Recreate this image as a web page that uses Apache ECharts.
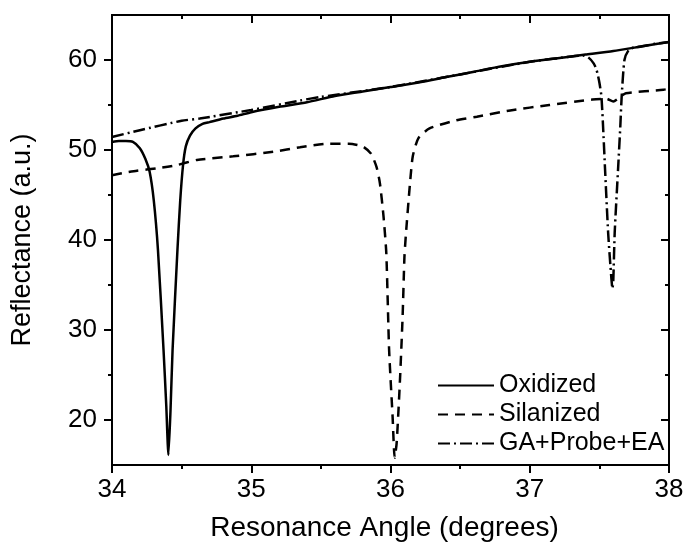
<!DOCTYPE html>
<html>
<head>
<meta charset="utf-8">
<script src="https://cdn.jsdelivr.net/npm/echarts@6/dist/echarts.min.js"></script>
<style>
html,body{margin:0;padding:0;background:#fff;}
#chart{width:688px;height:552px;}
</style>
</head>
<body>
<div id="chart"></div>
<script>
// ---- data (angle in degrees, reflectance in a.u.) ----
var seriesNames = ['Oxidized', 'Silanized', 'GA+Probe+EA'];

var oxidized = [
  [34.00, 50.9], [34.05, 51.0], [34.10, 51.0], [34.15, 50.9], [34.20, 50.2],
  [34.24, 49.0], [34.27, 47.6], [34.30, 44.4], [34.33, 38.9], [34.37, 27.8],
  [34.39, 21.5], [34.405, 16.1], [34.42, 21.0], [34.435, 27.8], [34.47, 38.9],
  [34.49, 44.4], [34.51, 48.3], [34.53, 50.4], [34.56, 51.6], [34.60, 52.4],
  [34.65, 52.9], [34.70, 53.1], [34.80, 53.5], [34.90, 53.8], [35.00, 54.2],
  [35.20, 54.8], [35.40, 55.3], [35.60, 56.0], [35.80, 56.5], [36.00, 57.0],
  [36.20, 57.5], [36.40, 58.1], [36.60, 58.7], [36.80, 59.3], [37.00, 59.8],
  [37.20, 60.2], [37.40, 60.6], [37.60, 61.0], [37.80, 61.5], [38.00, 62.0]
];

var silanized = [
  [34.00, 47.2], [34.10, 47.5], [34.18, 47.7], [34.34, 48.0], [34.46, 48.3],
  [34.61, 48.9], [34.87, 49.3], [35.16, 49.8], [35.35, 50.3], [35.56, 50.7],
  [35.70, 50.7], [35.80, 50.4], [35.86, 49.6], [35.90, 48.1], [35.924, 46.3],
  [35.95, 42.6], [35.97, 38.5], [35.99, 27.8], [36.015, 20.4], [36.03, 15.8],
  [36.044, 17.4], [36.067, 24.1], [36.087, 31.5], [36.10, 38.1], [36.11, 40.5],
  [36.14, 46.3], [36.16, 49.3], [36.20, 51.3], [36.28, 52.4], [36.47, 53.3],
  [36.62, 53.7], [36.86, 54.4], [37.14, 55.0], [37.45, 55.6], [37.55, 55.7],
  [37.60, 55.4], [37.65, 55.9], [37.69, 56.3], [37.96, 56.7], [38.00, 56.8]
];

var gaProbeEa = [
  [34.00, 51.45], [34.20, 52.2], [34.50, 53.25], [34.63, 53.5], [35.00, 54.45],
  [35.35, 55.5], [35.50, 55.9], [36.00, 57.0], [36.50, 58.4], [37.00, 59.8],
  [37.30, 60.4], [37.38, 60.5], [37.42, 60.3], [37.46, 59.6], [37.48, 58.9],
  [37.50, 57.5], [37.515, 55.9], [37.53, 51.5], [37.54, 48.1], [37.563, 40.8],
  [37.58, 37.0], [37.594, 34.6], [37.60, 35.5], [37.61, 40.8], [37.635, 48.1],
  [37.65, 52.5], [37.66, 55.9], [37.68, 60.0], [37.71, 61.1], [37.75, 61.4],
  [37.80, 61.5], [37.90, 61.8], [38.00, 62.0]
];

var xTicks = [34, 35, 36, 37, 38];
var yTicks = [20, 30, 40, 50, 60];
var yMinorTicks = [25, 35, 45, 55];
var yRange = [15, 65];

// ---- chart ----
var FONT = '"Liberation Sans", Arial, Helvetica, sans-serif';
var chart = echarts.init(document.getElementById('chart'), null, {renderer: 'canvas'});

function lineSt(w) { return {color: '#000', width: w}; }

var xBottom = {
  type: 'value', position: 'bottom', min: xTicks[0], max: xTicks[xTicks.length - 1], interval: 1,
  axisLine: {show: true, onZero: false, lineStyle: lineSt(2)},
  axisTick: {show: true, inside: false, length: 8, lineStyle: lineSt(2)},
  minorTick: {show: true, splitNumber: 2, length: 4, lineStyle: lineSt(2)},
  splitLine: {show: false},
  axisLabel: {color: '#000', fontFamily: FONT, fontSize: 26, margin: 12},
  name: 'Resonance Angle (degrees)', nameLocation: 'middle', nameGap: 49,
  nameTextStyle: {color: '#000', fontFamily: FONT, fontSize: 28, padding: [0, 12, 0, 0]}
};
var xTop = {
  type: 'value', position: 'top', min: xTicks[0], max: xTicks[xTicks.length - 1], interval: 1,
  axisLine: {show: true, onZero: false, lineStyle: lineSt(2)},
  axisTick: {show: true, inside: true, length: 8, lineStyle: lineSt(2)},
  minorTick: {show: true, splitNumber: 2, length: 4, lineStyle: lineSt(2)},
  splitLine: {show: false},
  axisLabel: {show: false}
};
function yAxisDef(pos, inside, tickVals, tickLen, withLabels) {
  var a = {
    type: 'value', position: pos, min: yRange[0], max: yRange[1], interval: 5,
    axisLine: {show: true, onZero: false, lineStyle: lineSt(2)},
    axisTick: {show: true, inside: inside, length: tickLen, customValues: tickVals, lineStyle: lineSt(2)},
    minorTick: {show: false},
    splitLine: {show: false},
    axisLabel: withLabels
      ? {show: true, customValues: yTicks, color: '#000', fontFamily: FONT, fontSize: 26, margin: 15}
      : {show: false}
  };
  if (withLabels) {
    a.name = 'Reflectance (a.u.)';
    a.nameLocation = 'middle';
    a.nameGap = 76;
    a.nameRotate = 90;
    a.nameTextStyle = {color: '#000', fontFamily: FONT, fontSize: 27};
  }
  return a;
}

var option = {
  animation: false,
  backgroundColor: '#fff',
  grid: {left: 112, right: 19, top: 15, bottom: 87, containLabel: false},
  xAxis: [xBottom, xTop],
  yAxis: [
    yAxisDef('left', false, yTicks, 8, true),
    yAxisDef('left', false, yMinorTicks, 4, false),
    yAxisDef('right', true, yTicks, 8, false),
    yAxisDef('right', true, yMinorTicks, 4, false)
  ],
  legend: {
    orient: 'vertical', left: 432, top: 368,
    itemWidth: 56, itemHeight: 14, itemGap: 4,
    itemStyle: {color: 'rgba(0,0,0,0)', borderColor: 'rgba(0,0,0,0)', borderWidth: 0, opacity: 0},
    textStyle: {color: '#000', fontFamily: FONT, fontSize: 25, padding: [0, 0, 0, 0]},
    data: seriesNames
  },
  series: [
    {name: seriesNames[0], type: 'line', data: oxidized, showSymbol: false, symbol: 'none',
     smooth: 0.2, lineStyle: {color: '#000', width: 2.5, type: 'solid'}, itemStyle: {color: '#000'}},
    {name: seriesNames[1], type: 'line', data: silanized, showSymbol: false, symbol: 'none',
     smooth: 0.2, lineStyle: {color: '#000', width: 2.5, type: [10, 7]}, itemStyle: {color: '#000'}},
    {name: seriesNames[2], type: 'line', data: gaProbeEa, showSymbol: false, symbol: 'none',
     smooth: 0.2, lineStyle: {color: '#000', width: 2.5, type: [12, 4, 2, 4]}, itemStyle: {color: '#000'}}
  ]
};
chart.setOption(option);
</script>
</body>
</html>
